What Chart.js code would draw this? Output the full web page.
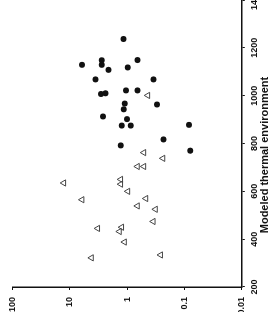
<!DOCTYPE html>
<html>
<head>
<meta charset="utf-8">
<script src="https://cdn.jsdelivr.net/npm/chart.js@4"></script>
<style>
  body { margin: 0; background: #fff; overflow: hidden; }
  #frame { position: relative; width: 280px; height: 316px; overflow: hidden; }
  /* chart is drawn upright, then turned a quarter left like the reference */
  #turn { position: absolute; left: 0; top: 316px; width: 330px; height: 280px;
          transform-origin: 0 0; transform: rotate(-90deg); }
</style>
</head>
<body>
<div id="frame">
  <div id="turn"><canvas id="scatter" width="330" height="280"></canvas></div>
</div>
<script>
// filled circles
const circleX = [1237, 1129, 1148, 1129, 1108, 1149, 1118, 1068, 1068, 1007, 1010, 1022,
  1022, 967, 943, 963, 913, 902, 875, 875, 878, 792, 817, 770];
const circleY = [1.16, 6.1, 2.77, 2.77, 2.1, 0.66, 0.97, 3.56, 0.347, 2.85, 2.37, 1.04,
  0.66, 1.1, 1.14, 0.30, 2.63, 1.0, 1.24, 0.865, 0.083, 1.29, 0.233, 0.079];

// open triangles
const triX = [1001, 762, 738, 704, 704, 635, 650, 630, 600, 565, 570, 539, 525, 474,
  445, 450, 432, 388, 322, 334];
const triY = [0.435, 0.51, 0.237, 0.66, 0.51, 12.7, 1.29, 1.29, 0.97, 6.1, 0.47, 0.66,
  0.32, 0.35, 3.25, 1.24, 1.36, 1.11, 4.18, 0.26];

const yTicks = [0.01, 0.1, 1, 10, 100];
const yTickLabels = ["0.01", "0.1", "1", "10", "100"];
const xTitle = "Modeled thermal environment";

const font = "'Liberation Sans', Arial, sans-serif";
const ink = "#111";

function toPoints(xs, ys) {
  return xs.map((x, i) => ({ x: x, y: ys[i] }));
}

const ctx = document.getElementById("scatter").getContext("2d");
new Chart(ctx, {
  type: "scatter",
  data: {
    datasets: [
      {
        data: toPoints(circleX, circleY),
        pointStyle: "circle",
        pointRadius: 3,
        borderWidth: 0,
        backgroundColor: ink,
      },
      {
        data: toPoints(triX, triY),
        pointStyle: "triangle",
        pointRadius: 3.6,
        borderWidth: 1,
        borderColor: "#444",
        backgroundColor: "rgba(255,255,255,0)",
      },
    ],
  },
  options: {
    responsive: false,
    animation: false,
    devicePixelRatio: 1,
    layout: { padding: { top: 8, left: 4, right: 12, bottom: 0 } },
    plugins: {
      legend: { display: false },
      tooltip: { enabled: false },
      title: {
        display: true,
        position: "bottom",
        text: xTitle,
        color: ink,
        font: { family: font, size: 11, weight: "bold" },
        padding: { top: 0, bottom: 8 },
      },
    },
    scales: {
      x: {
        type: "linear",
        min: 200,
        max: 1400,
        ticks: {
          stepSize: 200,
          maxRotation: 0,
          padding: 4,
          color: ink,
          font: { family: font, size: 9, weight: "bold" },
          callback: (value) => String(value),
        },
        grid: { drawOnChartArea: false, tickLength: 3, color: ink, lineWidth: 1 },
        border: { color: ink, width: 1.5 },
        afterFit: (scale) => { scale.height = 17; },
      },
      y: {
        type: "logarithmic",
        min: 0.01,
        max: 100,
        afterBuildTicks: (scale) => {
          scale.ticks = yTicks.map((v) => ({ value: v }));
        },
        ticks: {
          padding: 7,
          color: ink,
          font: { family: font, size: 9, weight: "bold" },
          callback: (value) => {
            const i = yTicks.indexOf(value);
            return i >= 0 ? yTickLabels[i] : "";
          },
        },
        grid: { drawOnChartArea: false, tickLength: 3, color: ink, lineWidth: 1 },
        border: { color: ink, width: 1.5 },
        afterFit: (scale) => { scale.width = 25; },
      },
    },
  },
});
</script>
</body>
</html>
